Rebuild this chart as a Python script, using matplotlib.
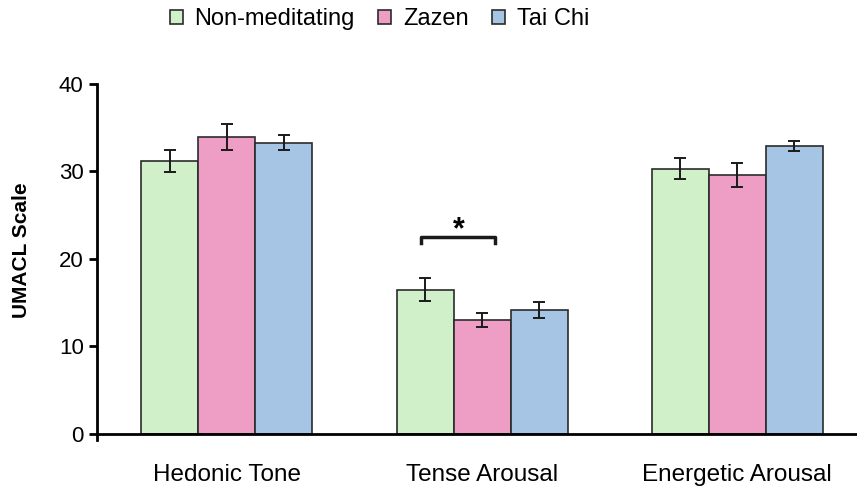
import numpy as np
import matplotlib.pyplot as plt
from matplotlib.patches import Patch

plt.rcParams['font.family'] = ['Liberation Sans', 'DejaVu Sans']

categories = ["Hedonic Tone", "Tense Arousal", "Energetic Arousal"]
groups = ["Non-meditating", "Zazen", "Tai Chi"]
means = {
    "Non-meditating": [31.2, 16.5, 30.3],
    "Zazen": [33.9, 13.0, 29.6],
    "Tai Chi": [33.3, 14.2, 32.9],
}
errors = {
    "Non-meditating": [1.3, 1.3, 1.2],
    "Zazen": [1.5, 0.8, 1.4],
    "Tai Chi": [0.9, 0.9, 0.6],
}
colors = ["#cff0c9", "#ee9dc5", "#a6c5e4"]

fig = plt.figure(figsize=(8.57, 4.87), dpi=100)
ax = fig.add_axes([0.113, 0.0965, 0.887, 0.731])

x = np.arange(len(categories))
w = 0.2235
for i, g in enumerate(groups):
    ax.bar(x + (i - 1) * w, means[g], w, color=colors[i], edgecolor="#2b2b2b",
           linewidth=1.2, yerr=errors[g], capsize=4.5,
           error_kw=dict(ecolor="#1a1a1a", elinewidth=1.4, capthick=1.4), zorder=2)

# significance bracket
bx0, bx1, by = 0.76, 1.05, 22.5
ax.plot([bx0, bx0, bx1, bx1], [by - 0.7, by, by, by - 0.7], color="#1a1a1a", lw=2.5)
ax.text(0.91, 21.6, "*", ha="center", va="bottom", fontsize=22, fontweight="bold")

ax.set_xlim(-0.51, 2.47)
ax.set_ylim(-0.7, 40)
ax.set_yticks([0, 10, 20, 30, 40])
ax.set_xticks(x)
ax.set_xticklabels(categories)
ax.tick_params(axis="y", labelsize=16, direction="out", length=6, width=2)
ax.tick_params(axis="x", labelsize=17.5, length=0, pad=22)
ax.spines["top"].set_visible(False)
ax.spines["right"].set_visible(False)
ax.spines["bottom"].set_position(("data", 0))
ax.spines["left"].set_linewidth(2)
ax.spines["bottom"].set_linewidth(2)
ax.set_ylabel("UMACL Scale", fontsize=15, fontweight="bold")
ax.yaxis.set_label_coords(-0.087, 0.534)

handles = [Patch(facecolor=c, edgecolor="#2b2b2b", linewidth=1.2) for c in colors]
fig.legend(handles, groups, loc="center", bbox_to_anchor=(0.443, 0.961), ncol=3,
           frameon=False, fontsize=17, handlelength=0.55, handleheight=0.55,
           handletextpad=0.5, columnspacing=1.0)

fig.savefig("out.png", dpi=100)
